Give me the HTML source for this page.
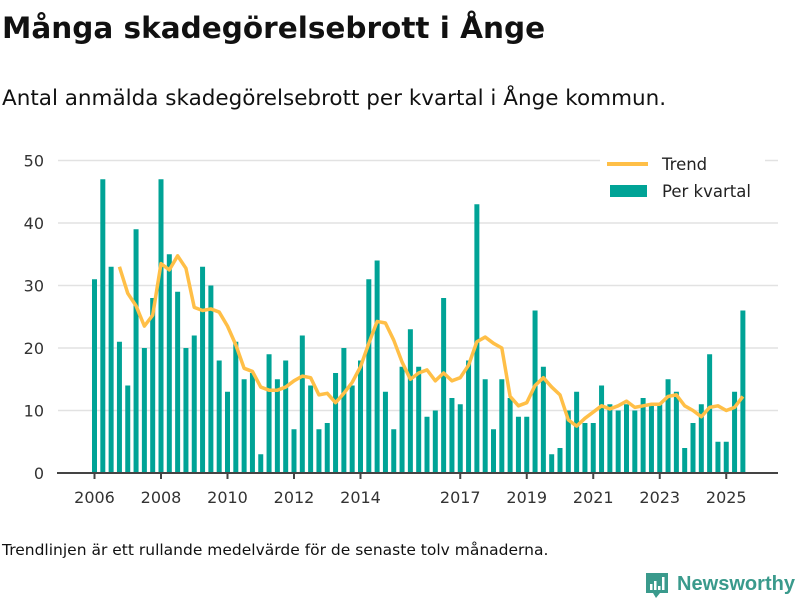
<!DOCTYPE html>
<html><head><meta charset="utf-8">
<style>
body{margin:0;background:#fff;width:800px;height:600px;overflow:hidden;font-family:"Liberation Sans","DejaVu Sans",sans-serif;}
svg{display:block}
</style></head>
<body>
<svg width="800" height="600" font-family="'DejaVu Sans','Liberation Sans',sans-serif">
<text x="2" y="38" font-size="29.5" font-weight="bold" fill="#111">Många skadegörelsebrott i Ånge</text>
<text x="2" y="105" font-size="21.5" fill="#111">Antal anmälda skadegörelsebrott per kvartal i Ånge kommun.</text>
<g id="grid"></g>
<g id="bars"></g>
<g id="trend"></g>
<g id="xaxis"></g>
<g>
<rect x="600" y="150" width="165" height="55" fill="#fff"/>
<line x1="607" y1="164" x2="648" y2="164" stroke="#ffbf47" stroke-width="4"/>
<text x="662" y="170" font-size="16.5" fill="#222">Trend</text>
<rect x="610" y="185" width="37" height="12" fill="#00a396"/>
<text x="662" y="197" font-size="16.5" fill="#222">Per kvartal</text>
</g>
<text x="2" y="555" font-size="15.5" fill="#111">Trendlinjen är ett rullande medelvärde för de senaste tolv månaderna.</text>
<g>
<path d="M646 573 h22 v20 h-8 l-4 5 l-3 -5 h-7 z" fill="#3a9a8c"/>
<rect x="650" y="584" width="2.5" height="6" fill="#fff"/><rect x="654" y="581" width="2.5" height="9" fill="#fff"/><rect x="658" y="586" width="2.5" height="4" fill="#fff"/><rect x="662" y="577" width="2.5" height="13" fill="#fff"/>
<text x="677" y="590" font-size="20" font-weight="bold" fill="#3a9a8c" font-family="'Liberation Sans',sans-serif" textLength="118" lengthAdjust="spacingAndGlyphs">Newsworthy</text>
</g>
</svg>
<script>
const values = [31,47,33,21,14,39,20,28,47,35,29,20,22,33,30,18,13,21,15,16,3,19,15,18,7,22,14,7,
8,16,20,14,18,31,34,13,7,17,23,17,9,10,28,12,11,18,43,15,7,15,12,9,9,26,17,
3,4,10,13,8,8,14,11,10,11,10,12,11,11,15,13,4,8,11,19,5,5,13,26];
const startYear = 2006;
const yTicks = [0,10,20,30,40,50];
const xTickYears = [2006,2008,2010,2012,2014,2017,2019,2021,2023,2025];
const NS="http://www.w3.org/2000/svg";
const xS = t => 94.5 + (t - startYear) * 33.25;
const yS = v => 473 - v * 6.25;
function mk(tag, attrs, parent){const e=document.createElementNS(NS,tag);for(const k in attrs)e.setAttribute(k,attrs[k]);parent.appendChild(e);return e;}
const grid=document.getElementById('grid');
yTicks.forEach(v=>{
  if(v>0){const l=mk('line',{x1:58,x2:778,y1:yS(v),y2:yS(v),stroke:'#e2e2e2','stroke-width':1.5},grid);
  
  }
  const t=mk('text',{x:44,y:yS(v)+6,'text-anchor':'end','font-size':16,fill:'#333'},grid);
  t.textContent=v;
  
  
});
const bars=document.getElementById('bars');
values.forEach((v,i)=>{
  const cx=xS(startYear+i/4);
  const r=mk('rect',{x:cx-2.5,y:yS(v),width:5,height:yS(0)-yS(v),fill:'#00a396'},bars);
  
  
});
const trend=[];
for(let i=3;i<values.length;i++){trend.push([i,(values[i]+values[i-1]+values[i-2]+values[i-3])/4]);}
const p=mk('polyline',{points:trend.map(([i,v])=>xS(startYear+i/4)+','+yS(v)).join(' '),fill:'none',stroke:'#ffbf47','stroke-width':3.5,'stroke-linejoin':'round'},document.getElementById('trend'));


const xa=document.getElementById('xaxis');
const ax=mk('line',{x1:57,x2:778,y1:473,y2:473,stroke:'#444','stroke-width':2},xa);


xTickYears.forEach(y=>{
  const x=xS(y);
  const tk=mk('line',{x1:x,x2:x,y1:473,y2:479,stroke:'#444','stroke-width':2},xa);
  
  
  const t=mk('text',{x:x,y:503,'text-anchor':'middle','font-size':16,fill:'#333'},xa);
  t.textContent=y;
  
  
});
</script>
</body></html>
